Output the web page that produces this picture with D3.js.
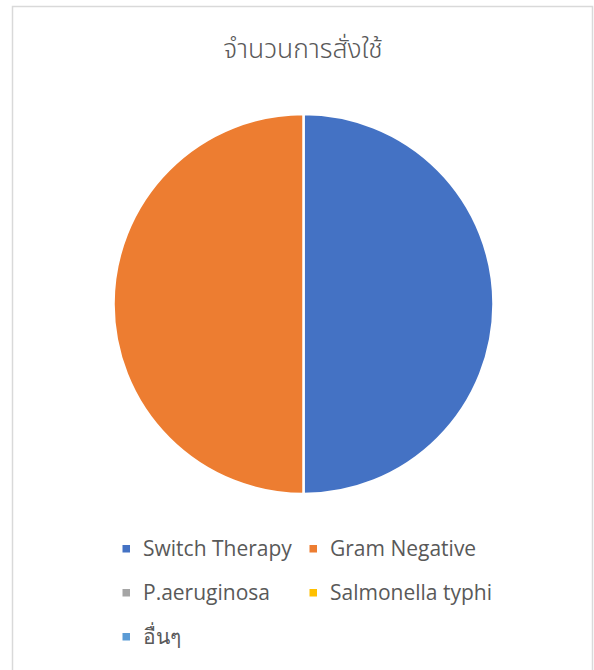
<!DOCTYPE html>
<html><head><meta charset="utf-8">
<script src="https://cdn.jsdelivr.net/npm/d3@7"></script>
<style>body{margin:0;background:#fff;} svg{display:block;}</style>
</head><body>
<script>
const title = "จำนวนการสั่งใช้";
const categories = ["Switch Therapy", "Gram Negative", "P.aeruginosa", "Salmonella typhi", "อื่นๆ"];
const values = [1, 1, 0, 0, 0];
const colors = ["#4472C4", "#ED7D31", "#A5A5A5", "#FFC000", "#5B9BD5"];

const W = 594, H = 670;
const svg = d3.select("body").append("svg").attr("width", W).attr("height", H);
svg.append("rect").attr("x", 12.5).attr("y", 6.5).attr("width", 580).attr("height", 700)
  .attr("fill", "#fff").attr("stroke", "#d9d9d9").attr("stroke-width", 1.5);

svg.append("text").attr("x", 303).attr("y", 58).attr("text-anchor", "middle")
  .attr("font-family", "'Noto Sans Thai', 'Noto Sans', sans-serif").attr("font-size", 26.5)
  .attr("font-weight", 300)
  .attr("fill", "#595959").text(title);

const data = categories.map((c, i) => ({ c, v: values[i], col: colors[i] }));
const pie = d3.pie().value(d => d.v).sort(null);
const arc = d3.arc().innerRadius(0).outerRadius(190);
const g = svg.append("g").attr("transform", "translate(303.5,304)");
g.selectAll("path").data(pie(data).filter(d => d.data.v > 0)).join("path")
  .attr("d", arc).attr("fill", d => d.data.col).attr("stroke", "#fff").attr("stroke-width", 2.5);

const color = d3.scaleOrdinal().domain(categories).range(colors);
const colX = [126, 313], rowY = [549, 593, 637];
const lg = svg.append("g");
categories.forEach((c, i) => {
  const x = colX[i % 2], y = rowY[Math.floor(i / 2)];
  lg.append("rect").attr("x", x - 3.5).attr("y", y - 4).attr("width", 7.5).attr("height", 7.5).attr("fill", color(c));
  lg.append("text").attr("x", x + 17).attr("y", y).attr("dy", "0.35em")
    .attr("font-family", "'Open Sans', sans-serif").attr("font-size", 21)
    .attr("fill", "#595959").text(c);
});
</script>
</body></html>
